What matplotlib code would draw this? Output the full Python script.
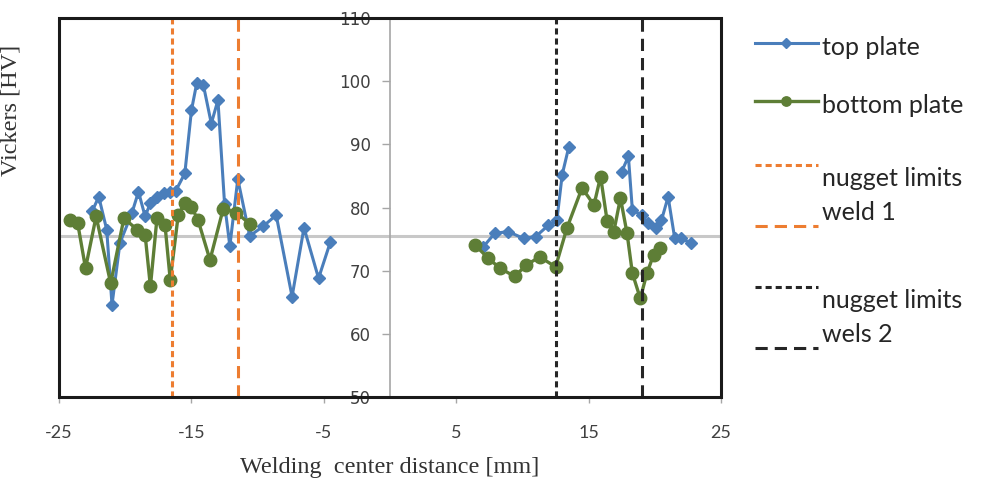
import matplotlib.pyplot as plt
import numpy as np
from matplotlib.patches import Rectangle
from matplotlib.legend_handler import HandlerLine2D

plt.rcParams['axes.unicode_minus'] = False

# Hardness values (None = gap in the curve)
top_x = [-22.5, -22.0, -21.4, -21.0, -20.4, -19.5, -19.0, -18.5, -18.1, -17.6,
         -17.1, -16.6, -16.2, -15.5, -15.0, -14.6, -14.1, -13.5, -13.0, -12.5,
         -12.1, -11.5, -10.6, -9.6, -8.6, -7.4, -6.5, -5.4, -4.5, None,
         7.05, 7.9, 8.9, 10.1, 11.0, 11.96, 12.6, 13.0, 13.5, None,
         17.5, 18.0, 18.3, 19.0, 19.5, 20.1, 20.5, 21.0, 21.5, 22.0, 22.7]
top_y = [79.4, 81.7, 76.5, 64.6, 74.4, 79.1, 82.5, 78.6, 80.7, 81.7,
         82.3, 82.5, 82.6, 85.4, 95.4, 99.7, 99.4, 93.3, 97.0, 80.6,
         73.9, 84.5, 75.5, 77.0, 78.8, 65.9, 76.8, 68.8, 74.6, None,
         73.8, 75.9, 76.2, 75.1, 75.4, 77.2, 78.0, 85.2, 89.6, None,
         85.7, 88.1, 79.6, 78.8, 77.5, 76.7, 78.0, 81.7, 75.1, 75.1, 74.4]

bot_x = [-24.2, -23.6, -23.0, -22.2, -21.1, -20.1, -19.1, -18.5, -18.1, -17.6,
         -17.0, -16.6, -16.0, -15.5, -15.0, -14.5, -13.6, -12.6, -11.6, -10.6, None,
         6.4, 7.4, 8.3, 9.4, 10.3, 11.3, 12.5, 13.35, 14.5, 15.4,
         15.9, 16.4, 16.9, 17.4, 17.9, 18.3, 18.9, 19.4, 19.9, 20.4]
bot_y = [78.0, 77.6, 70.4, 78.6, 68.0, 78.3, 76.5, 75.7, 67.5, 78.4,
         77.3, 68.5, 78.8, 80.7, 80.1, 78.0, 71.7, 79.8, 79.2, 77.4, None,
         74.1, 72.0, 70.4, 69.1, 70.9, 72.2, 70.6, 76.7, 83.1, 80.4,
         84.9, 77.8, 76.2, 81.5, 75.9, 69.6, 65.6, 69.6, 72.5, 73.6]

base_hv = 75.5              # grey base-material line
weld1 = [-16.5, -11.5]      # nugget limits weld 1
weld2 = [12.5, 19.0]        # nugget limits weld 2

x_ticks = [-25, -15, -5, 5, 15, 25]
y_ticks = [50, 60, 70, 80, 90, 100, 110]

legend_labels = ['top plate', 'bottom plate', '\nnugget limits', 'weld 1\n',
                 '\nnugget limits', 'wels 2\n']


class LoweredLine(HandlerLine2D):
    # legend handle drawn a few points lower than matplotlib's default
    def __init__(self, dy, **kw):
        super().__init__(**kw)
        self.dy = dy

    def create_artists(self, legend, orig_handle, xdescent, ydescent, width,
                       height, fontsize, trans):
        return super().create_artists(legend, orig_handle, xdescent,
                                      ydescent + 2 * self.dy, width, height,
                                      fontsize, trans)


top_x = np.array(top_x, dtype=float)
top_y = np.array(top_y, dtype=float)
bot_x = np.array(bot_x, dtype=float)
bot_y = np.array(bot_y, dtype=float)

fig = plt.figure(figsize=(9.89, 4.82), dpi=100)
ax = fig.add_axes([0.0597, 0.1763, 0.6694, 0.7863])

ax.axhline(base_hv, color='#C8C8C8', lw=2.2, zorder=1)
h1, = ax.plot(top_x, top_y, color='#4A7EBB', lw=2.2, marker='D', ms=6.5, zorder=3)
h2, = ax.plot(bot_x, bot_y, color='#5E7E36', lw=2.4, marker='o', ms=9, zorder=4)
h3 = ax.axvline(weld1[0], color='#ED7D31', lw=2.2, dashes=(2, 1.3), zorder=5)
h4 = ax.axvline(weld1[1], color='#ED7D31', lw=2.2, dashes=(4, 2.3), zorder=5)
h5 = ax.axvline(weld2[0], color='#262626', lw=2.2, dashes=(2, 1.3), zorder=5)
h6 = ax.axvline(weld2[1], color='#262626', lw=2.2, dashes=(4, 2.3), zorder=5)

ax.set_xlim(-25, 25)
ax.set_ylim(50, 110)
ax.set_xticks(x_ticks)
ax.set_yticks(y_ticks)

# y axis sits at x = 0, black frame around the plot
ax.spines['left'].set_position(('data', 0))
ax.spines['left'].set_color('#A6A6A6')
ax.spines['left'].set_linewidth(1.2)
for s in ['top', 'right', 'bottom']:
    ax.spines[s].set_visible(False)
ax.add_patch(Rectangle((0, 0), 1, 1, transform=ax.transAxes, fill=False,
                       ec='#1a1a1a', lw=2.2, clip_on=False, zorder=6))

ax.tick_params(axis='y', direction='out', length=6, width=1, color='#A6A6A6',
               labelsize=12, labelcolor='#404040', pad=8)
ax.tick_params(axis='x', direction='out', length=4, width=1, color='#A6A6A6',
               labelsize=13, labelcolor='#404040', pad=16)
for lbl in ax.get_xticklabels():
    lbl.set_family('Lato')

ax.set_xlabel('Welding  center distance [mm]', family='Liberation Serif',
              size=17.5, color='#333333', labelpad=12)
ax.set_ylabel('Vickers [HV]', family='Liberation Serif', size=17.5, color='#333333')
ax.yaxis.set_label_coords(-0.056, 0.755)

hmap = {h1: LoweredLine(3), h2: LoweredLine(3), h3: LoweredLine(5),
        h4: LoweredLine(5), h5: LoweredLine(5), h6: LoweredLine(5)}
ax.legend([h1, h2, h3, h4, h5, h6], legend_labels, loc='upper left',
          bbox_to_anchor=(755 / 989, 1 - 23 / 482), bbox_transform=fig.transFigure,
          frameon=False, prop={'family': 'Lato', 'size': 18}, labelcolor='#262626',
          handlelength=2.5, handletextpad=0.2, handleheight=2.6, labelspacing=0.40,
          markerscale=0.75, borderaxespad=0, borderpad=0, handler_map=hmap)

fig.savefig('out.png', dpi=100)
